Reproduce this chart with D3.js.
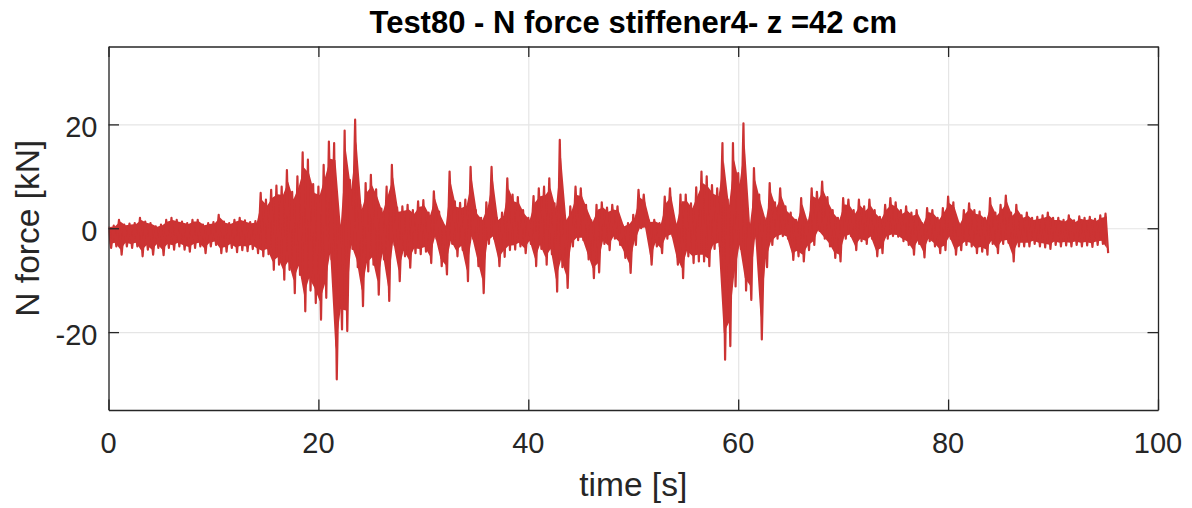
<!DOCTYPE html>
<html>
<head>
<meta charset="utf-8">
<script src="https://cdn.jsdelivr.net/npm/d3@7"></script>
<style>
  body { margin: 0; background: #fff; }
  svg { display: block; font-family: "Liberation Sans", Arial, Helvetica, sans-serif; }
</style>
</head>
<body>
<svg id="chart" width="1192" height="508"></svg>
<script>
// time grid of the envelope samples [s]
const timeStep = 0.5;
const timeBins = d3.range(0, 95.01, timeStep);

// upper and lower envelope of the N force in each bin [kN]
const forceHigh = [
  0.3, 0.5, 1.6, 0.7, 0.9, 1.0, 2.0, 1.3, 1.0, 0.35,
  0.7, 1.6, 2.0, 1.6, 1.3, 1.0, 1.6, 1.6, 0.7, 1.0,
  1.2, 2.6, 1.3, 1.0, 1.6, 2.0, 1.5, 1.2, 1.4, 6.8,
  5.5, 7.4, 8.2, 8.0, 11.2, 7.0, 10.0, 14.6, 13.2, 8.5,
  8.0, 12.2, 16.7, 16.4, 0.7, 18.8, 9.3, 20.9, 4.5, 8.7,
  10.3, 7.5, 3.8, 8.0, 12.2, 4.0, 4.2, 4.5, 3.5, 5.2,
  5.4, 3.0, 7.1, 3.2, 0.5, 10.9, 5.2, 4.9, 5.5, 11.8,
  3.5, 2.0, 5.0, 11.8, 2.0, 3.0, 9.6, 6.5, 6.0, 3.5,
  2.0, 6.2, 7.7, 8.0, 9.6, 4.8, 17.0, 2.0, 4.2, 8.0,
  7.7, 4.5, 1.5, 4.5, 5.0, 4.0, 4.5, 4.2, 0.5, 1.0,
  2.6, 7.4, 6.5, 1.5, 1.6, 1.0, 6.1, 7.7, 1.0, 6.5,
  6.5, 4.8, 7.9, 10.9, 10.0, 8.3, 7.7, 16.4, 5.5, 16.4,
  10.6, 20.2, 1.0, 11.6, 6.5, 2.0, 8.7, 5.0, 7.7, 4.2,
  3.0, 1.6, 5.8, 1.6, 7.7, 7.0, 9.0, 6.0, 3.5, 2.0,
  5.8, 5.5, 3.5, 5.5, 4.2, 5.5, 3.5, 2.2, 4.5, 5.8,
  5.0, 3.5, 4.2, 3.0, 3.5, 1.0, 3.9, 3.5, 2.0, 3.9,
  6.1, 5.0, 1.0, 3.5, 4.8, 3.5, 3.2, 2.0, 5.8, 3.0,
  4.5, 6.3, 3.0, 4.5, 2.5, 3.0, 2.0, 2.2, 2.5, 3.0,
  2.0, 2.0, 1.6, 2.5, 1.5, 2.3, 2.0, 2.2, 1.8, 2.5,
  2.8
];
const forceLow = [
  -3.8, -3.5, -5.1, -3.5, -3.8, -3.5, -5.4, -4.1, -5.1, -3.8,
  -5.2, -3.8, -4.1, -3.5, -4.1, -4.5, -3.8, -3.5, -4.8, -3.5,
  -3.2, -4.8, -4.5, -3.8, -4.6, -4.2, -4.4, -4.0, -4.8, -5.4,
  -5.0, -8.0, -7.0, -9.9, -8.0, -12.5, -9.0, -16.0, -12.0, -14.4,
  -17.6, -13.4, -6.0, -29.1, -19.5, -19.8, -4.0, -7.5, -15.0, -8.3,
  -7.0, -12.8, -6.0, -14.0, -3.2, -10.2, -5.4, -7.6, -4.8, -5.0,
  -4.5, -6.7, -2.0, -7.3, -8.9, -3.0, -5.4, -4.2, -10.2, -2.0,
  -7.3, -12.5, -3.0, -2.0, -7.3, -5.5, -4.2, -4.1, -3.5, -4.8,
  -3.0, -7.3, -4.0, -7.0, -5.0, -12.2, -7.5, -11.5, -3.5, -2.3,
  -2.3, -6.0, -9.6, -8.5, -3.0, -4.2, -2.0, -3.2, -5.7, -8.6,
  -3.2, 0.0, 0.2, -7.0, -3.5, -4.8, -2.0, -1.5, -7.0, -9.6,
  -5.4, -6.7, -6.4, -6.4, -7.3, -4.0, -3.5, -25.3, -22.7, -11.2,
  -4.0, -12.0, -13.8, -2.0, -21.4, -7.5, -3.2, -2.0, -1.5, -2.0,
  -6.1, -5.4, -6.4, -4.2, -3.2, -0.5, -2.0, -3.5, -5.7, -6.4,
  -2.0, -1.5, -4.2, -2.5, -3.0, -2.0, -5.4, -4.8, -2.0, -1.5,
  -1.6, -2.5, -3.2, -5.1, -3.0, -5.6, -2.5, -3.5, -4.8, -4.2,
  -2.0, -5.1, -4.2, -3.2, -3.5, -4.8, -4.5, -5.1, -3.0, -4.8,
  -3.0, -2.8, -6.4, -3.5, -3.5, -3.5, -3.0, -3.5, -3.7, -4.0,
  -3.2, -3.5, -3.3, -3.5, -3.2, -3.5, -3.3, -3.6, -3.2, -3.0,
  -4.8
];

const xTicks = [0, 20, 40, 60, 80, 100];
const yTicks = [-20, 0, 20];

const titleText = 'Test80 - N force stiffener4- z =42 cm';
const xLabel = 'time [s]';
const yLabel = 'N force [kN]';

const width = 1192;
const height = 508;
const margin = { top: 46.5, right: 34, bottom: 98, left: 108.5 };
const innerWidth = width - margin.left - margin.right;
const innerHeight = height - margin.top - margin.bottom;
const axisColor = '#262626';
const lineColor = '#cc3333';
const tickLen = 10.5;

const svg = d3.select('#chart');

const xScale = d3.scaleLinear().domain([0, 100]).range([0, innerWidth]);
const yScale = d3.scaleLinear().domain([-35, 35]).range([innerHeight, 0]);

// zig-zag between the high and low value of each bin
const samples = [];
timeBins.forEach((t, i) => {
  samples.push([t, forceHigh[i]]);
  samples.push([t + timeStep / 2, forceLow[i]]);
});

const bins = timeBins.map((t, i) => ({ t, hi: forceHigh[i], lo: forceLow[i] }));

const g = svg.append('g')
  .attr('transform', `translate(${margin.left}, ${margin.top})`);

svg.append('defs').append('clipPath').attr('id', 'plot-clip')
  .append('rect')
    .attr('x', 0)
    .attr('y', 0)
    .attr('width', innerWidth)
    .attr('height', innerHeight);

// grid
g.append('g')
  .attr('class', 'grid grid--x')
  .attr('transform', `translate(0, ${innerHeight})`)
  .call(d3.axisBottom(xScale).tickValues(xTicks).tickSize(-innerHeight).tickFormat(''))
  .call(s => s.select('.domain').remove())
  .call(s => s.selectAll('line').attr('stroke', '#e5e5e5').attr('stroke-width', 1.2));

g.append('g')
  .attr('class', 'grid grid--y')
  .call(d3.axisLeft(yScale).tickValues(yTicks).tickSize(-innerWidth).tickFormat(''))
  .call(s => s.select('.domain').remove())
  .call(s => s.selectAll('line').attr('stroke', '#e5e5e5').attr('stroke-width', 1.2));

// signal: dense band between the envelopes plus the zig-zag on top
const band = d3.area()
  .x(d => xScale(d.t + timeStep / 4))
  .y0(d => yScale(d.lo * 0.8))
  .y1(d => yScale(d.hi * 0.8));

const line = d3.line()
  .x(d => xScale(d[0]))
  .y(d => yScale(d[1]));

const plot = g.append('g').attr('clip-path', 'url(#plot-clip)');

plot.append('path')
  .datum(bins)
  .attr('fill', lineColor)
  .attr('d', band);

plot.append('path')
  .datum(samples)
  .attr('fill', 'none')
  .attr('stroke', lineColor)
  .attr('stroke-width', 2.2)
  .attr('stroke-linejoin', 'round')
  .attr('d', line);

// box with inward ticks on all four sides
function styleAxis(s) {
  s.select('.domain').attr('stroke', axisColor).attr('stroke-width', 1.3);
  s.selectAll('.tick line').attr('stroke', axisColor).attr('stroke-width', 1.3);
  s.selectAll('.tick text').remove();
}

g.append('g')
  .attr('class', 'axis axis--x')
  .attr('transform', `translate(0, ${innerHeight})`)
  .call(d3.axisBottom(xScale).tickValues(xTicks).tickSizeInner(-tickLen).tickSizeOuter(0))
  .call(styleAxis);

g.append('g')
  .attr('class', 'axis axis--top')
  .call(d3.axisTop(xScale).tickValues(xTicks).tickSizeInner(-tickLen).tickSizeOuter(0))
  .call(styleAxis);

g.append('g')
  .attr('class', 'axis axis--y')
  .call(d3.axisLeft(yScale).tickValues(yTicks).tickSizeInner(-tickLen).tickSizeOuter(0))
  .call(styleAxis);

g.append('g')
  .attr('class', 'axis axis--right')
  .attr('transform', `translate(${innerWidth}, 0)`)
  .call(d3.axisRight(yScale).tickValues(yTicks).tickSizeInner(-tickLen).tickSizeOuter(0))
  .call(styleAxis);

// tick labels
g.selectAll('.xlabel')
  .data(xTicks)
  .enter().append('text')
    .attr('class', 'xlabel')
    .attr('x', d => xScale(d))
    .attr('y', innerHeight + 43)
    .attr('text-anchor', 'middle')
    .attr('font-size', 29)
    .attr('fill', axisColor)
    .text(d => d);

g.selectAll('.ylabel')
  .data(yTicks)
  .enter().append('text')
    .attr('class', 'ylabel')
    .attr('x', -11)
    .attr('y', d => yScale(d) + 13)
    .attr('text-anchor', 'end')
    .attr('font-size', 29)
    .attr('fill', axisColor)
    .text(d => d);

// axis titles
svg.append('text')
  .attr('x', margin.left + innerWidth / 2)
  .attr('y', 496)
  .attr('text-anchor', 'middle')
  .attr('font-size', 33.5)
  .attr('fill', axisColor)
  .text(xLabel);

svg.append('text')
  .attr('transform', `translate(39, ${margin.top + innerHeight / 2}) rotate(-90)`)
  .attr('text-anchor', 'middle')
  .attr('font-size', 33.5)
  .attr('fill', axisColor)
  .text(yLabel);

svg.append('text')
  .attr('x', margin.left + innerWidth / 2)
  .attr('y', 33)
  .attr('text-anchor', 'middle')
  .attr('font-size', 31)
  .attr('font-weight', 'bold')
  .attr('fill', '#000')
  .text(titleText);
</script>
</body>
</html>
